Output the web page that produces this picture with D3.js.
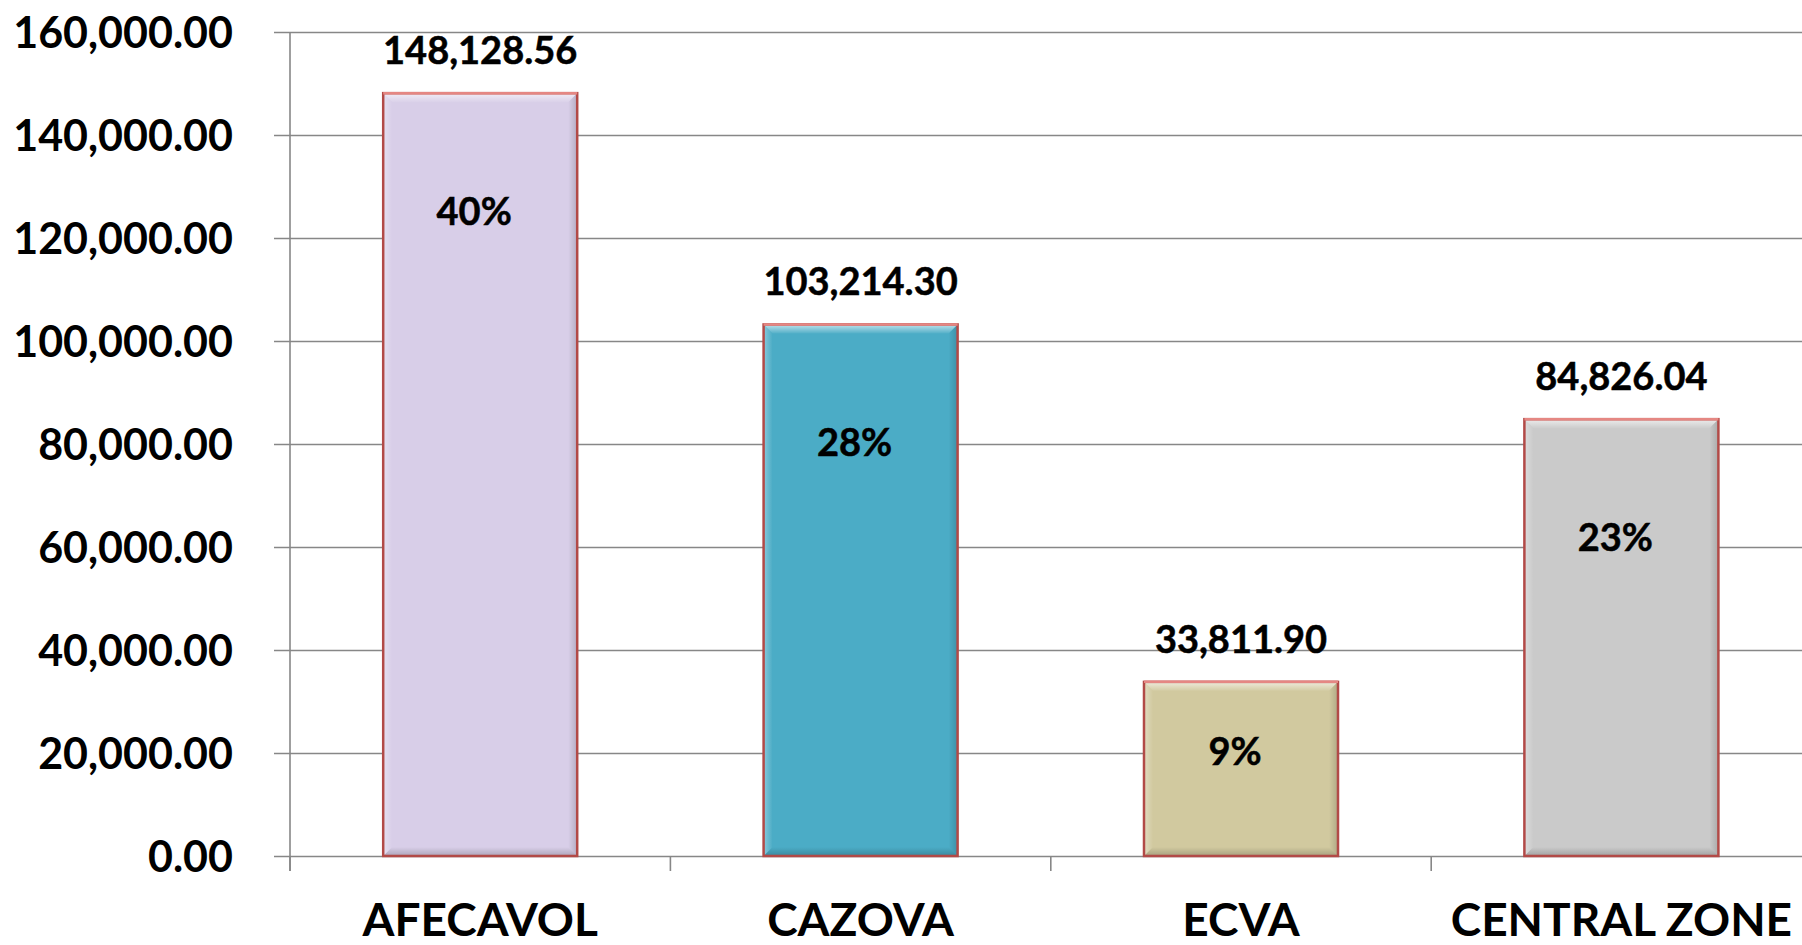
<!DOCTYPE html>
<html>
<head>
<meta charset="utf-8">
<script src="https://cdn.jsdelivr.net/npm/d3@7"></script>
<style>
  html, body { margin: 0; padding: 0; background: #fff; }
  svg { display: block; }
  .fig text { font-family: Lato, "Open Sans", sans-serif; font-weight: 700; fill: #000; }
  .fig .etq { stroke: #000; stroke-width: 0.5px; }
</style>
</head>
<body>
<div id="graf"></div>
<script>
// datos
const categorias = ["AFECAVOL", "CAZOVA", "ECVA", "CENTRAL ZONE"]
const valores = [148128.56, 103214.30, 33811.90, 84826.04]
const porcentajes = ["40%", "28%", "9%", "23%"]
const colores = ["#D8CEE8", "#4BACC6", "#D1C99F", "#CACACA"]
const yTicks = [0, 20000, 40000, 60000, 80000, 100000, 120000, 140000, 160000]

const anchoTotal = 1802
const altoTotal = 945
const margins = { left: 290, top: 32 }
const paso = 380.4
const ancho = paso * categorias.length
const alto = 824

const svg = d3.select("#graf")
  .append("svg")
  .attr("width", anchoTotal)
  .attr("height", altoTotal)
  .attr("class", "fig")

const defs = svg.append("defs")
const grad = (id, x2, y2, color, o1, o2) => {
  const g = defs.append("linearGradient").attr("id", id)
    .attr("x1", 0).attr("y1", 0).attr("x2", x2).attr("y2", y2)
  g.append("stop").attr("offset", "0%").attr("stop-color", color).attr("stop-opacity", o1)
  g.append("stop").attr("offset", "100%").attr("stop-color", color).attr("stop-opacity", o2)
}
grad("bvTop", 0, 1, "#fff", 0.65, 0.05)
grad("bvBot", 0, 1, "#000", 0.0, 0.2)
grad("bvLeft", 1, 0, "#fff", 0.35, 0.0)
grad("bvRight", 1, 0, "#000", 0.0, 0.16)

const g = svg.append("g").attr("transform", `translate(${margins.left}, ${margins.top})`)

const x = d3.scaleBand().domain(categorias).range([0, ancho]).paddingInner(0.49).paddingOuter(0.245)
const y = d3.scaleLinear().domain([0, 160000]).range([alto, 0])

// eje y + lineas de rejilla
const yAxis = g.append("g")
  .attr("transform", "translate(-16, 0)")
  .call(d3.axisLeft(y).tickValues(yTicks).tickFormat(d3.format(",.2f"))
    .tickSize(-(ancho + 16)).tickPadding(41))
yAxis.select(".domain").remove()
yAxis.selectAll("line").attr("stroke", "#878787").attr("stroke-width", 1.6)
yAxis.selectAll("text").style("font-size", "43px").attr("dy", "0.36em")

// linea vertical del eje
g.append("line")
  .attr("x1", 0).attr("x2", 0)
  .attr("y1", y(160000)).attr("y2", alto + 15)
  .attr("stroke", "#878787").attr("stroke-width", 1.6)

// marcas entre categorias
g.selectAll(".sep")
  .data(d3.range(categorias.length + 1))
  .enter().append("line")
  .attr("class", "sep")
  .attr("x1", d => d * x.step()).attr("x2", d => d * x.step())
  .attr("y1", alto).attr("y2", alto + 15)
  .attr("stroke", "#878787").attr("stroke-width", 1.6)

// eje x (etiquetas)
const xAxis = g.append("g")
  .attr("transform", `translate(0, ${alto})`)
  .call(d3.axisBottom(x).tickSize(0))
xAxis.select(".domain").remove()
xAxis.selectAll("text").style("font-size", "46px").attr("dy", null).attr("y", 80)

// barras
const datos = categorias.map((c, i) => ({ cat: c, val: valores[i], pct: porcentajes[i], color: colores[i] }))
const b = 9

const barras = g.selectAll(".barra").data(datos).enter().append("g").attr("class", "barra")

barras.append("rect")
  .attr("x", d => x(d.cat))
  .attr("y", d => y(d.val))
  .attr("width", x.bandwidth())
  .attr("height", d => alto - y(d.val))
  .attr("fill", d => d.color)

const poly = (fill, fn) => barras.append("polygon").attr("fill", fill)
  .attr("points", d => {
    const x0 = x(d.cat), x1 = x0 + x.bandwidth(), y0 = y(d.val), y1 = alto
    return fn(x0, x1, y0, y1).map(p => p.join(",")).join(" ")
  })
poly("url(#bvTop)", (x0, x1, y0) => [[x0, y0], [x1, y0], [x1 - b, y0 + b], [x0 + b, y0 + b]])
poly("url(#bvBot)", (x0, x1, y0, y1) => [[x0 + b, y1 - b], [x1 - b, y1 - b], [x1, y1], [x0, y1]])
poly("url(#bvLeft)", (x0, x1, y0, y1) => [[x0, y0], [x0 + b, y0 + b], [x0 + b, y1 - b], [x0, y1]])
poly("url(#bvRight)", (x0, x1, y0, y1) => [[x1 - b, y0 + b], [x1, y0], [x1, y1], [x1 - b, y1 - b]])

barras.append("rect")
  .attr("x", d => x(d.cat))
  .attr("y", d => y(d.val))
  .attr("width", x.bandwidth())
  .attr("height", d => alto - y(d.val))
  .attr("fill", "none")
  .attr("stroke", "#B24A47")
  .attr("stroke-width", 2.5)

barras.append("line")
  .attr("x1", d => x(d.cat)).attr("x2", d => x(d.cat) + x.bandwidth())
  .attr("y1", d => y(d.val)).attr("y2", d => y(d.val))
  .attr("stroke", "#E58783").attr("stroke-width", 2.5)

// etiquetas de valor
barras.append("text")
  .attr("class", "etq")
  .attr("x", d => x(d.cat) + x.bandwidth() / 2)
  .attr("y", d => y(d.val) - 29)
  .attr("text-anchor", "middle")
  .style("font-size", "38px")
  .text(d => d3.format(",.2f")(d.val))

// porcentajes
barras.append("text")
  .attr("class", "etq")
  .attr("x", d => x(d.cat) + x.bandwidth() / 2 - 6)
  .attr("y", d => y(d.val) + Math.min(118, 0.4 * (alto - y(d.val))))
  .attr("dy", "0.36em")
  .attr("text-anchor", "middle")
  .style("font-size", "38px")
  .text(d => d.pct)
</script>
</body>
</html>
